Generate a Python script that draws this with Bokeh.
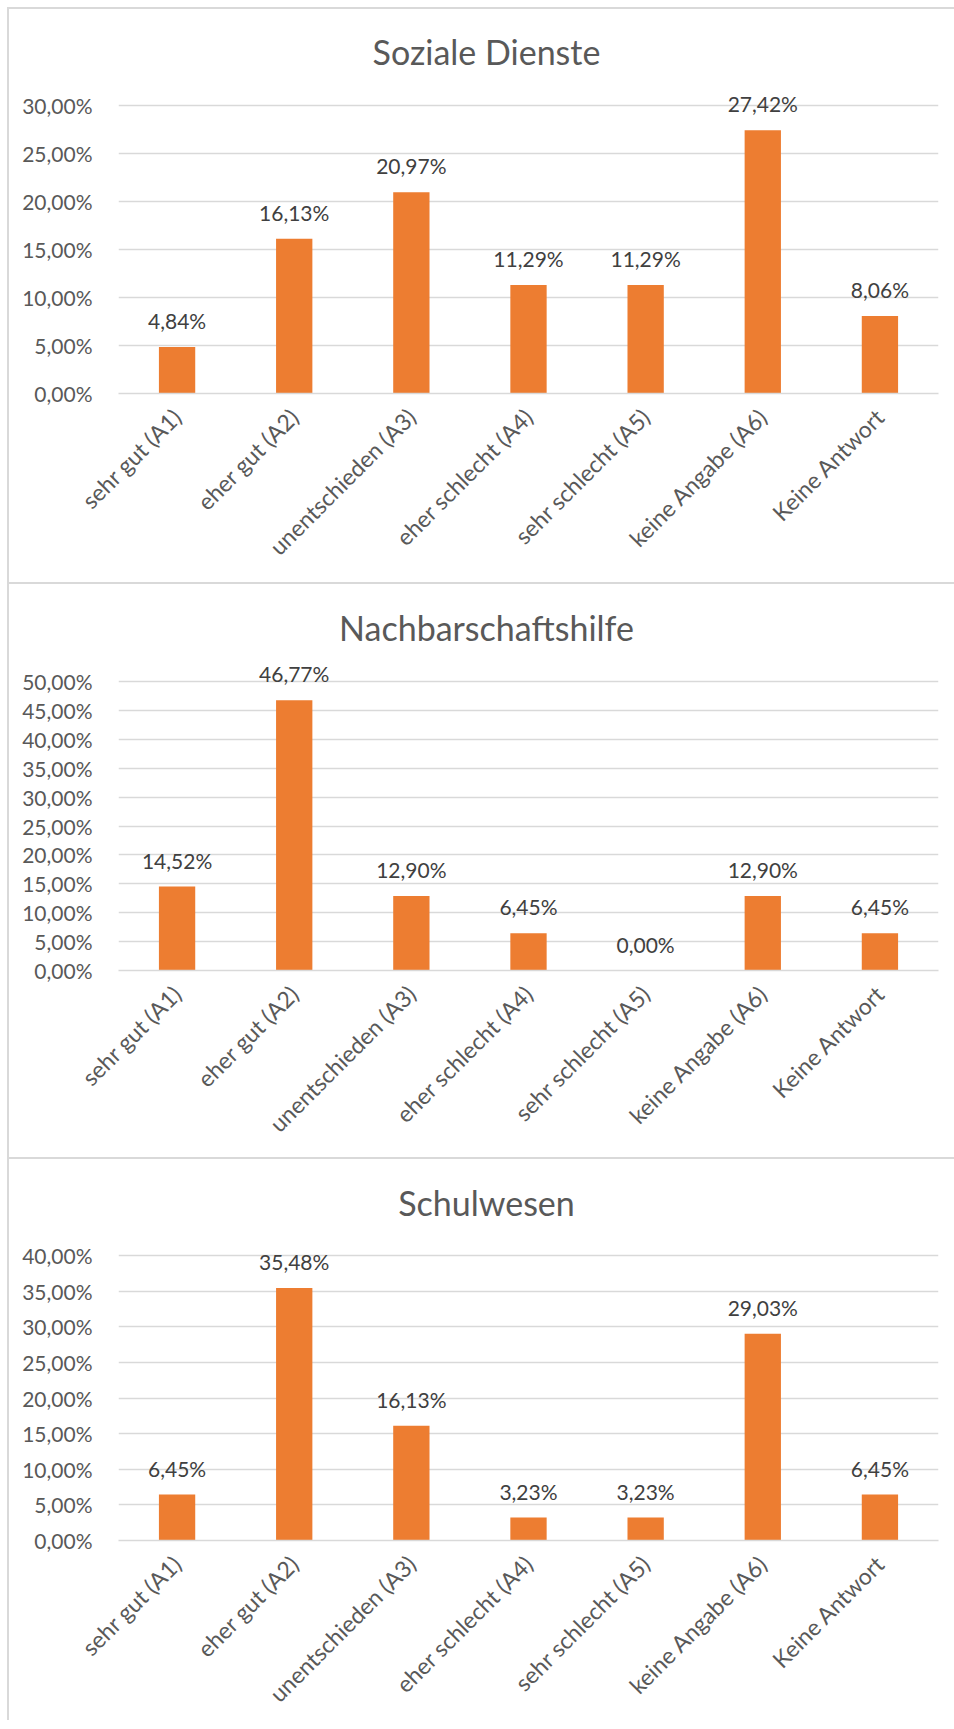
from bokeh.plotting import figure
from bokeh.models import (ColumnDataSource, LabelSet, Label, FactorRange, FixedTicker,
                          CustomJSTickFormatter, Div, Range1d)
from bokeh.layouts import column, row
from bokeh.core.properties import value
from bokeh.embed import file_html
from bokeh.resources import INLINE
import math

categories = ["sehr gut (A1)", "eher gut (A2)", "unentschieden (A3)", "eher schlecht (A4)",
              "sehr schlecht (A5)", "keine Angabe (A6)", "Keine Antwort"]

titles = ["Soziale Dienste", "Nachbarschaftshilfe", "Schulwesen"]

soziale_dienste = [4.84, 16.13, 20.97, 11.29, 11.29, 27.42, 8.06]
nachbarschaftshilfe = [14.52, 46.77, 12.90, 6.45, 0.00, 12.90, 6.45]
schulwesen = [6.45, 35.48, 16.13, 3.23, 3.23, 29.03, 6.45]

y_max = [30, 50, 40]
y_step = 5

BAR = "#ED7D31"
GRID = "#D9D9D9"
AXIS_TXT = "#595959"
LABEL_TXT = "#404040"
FONT = "Lato"

# (figure height, space above top gridline, height of gridline area)
geom = [(573, 96, 288), (573, 97, 289), (561, 98, 290)]
FIG_W = 945
LEFT = 109
RIGHT = 16
TITLE_GAP = 54  # px between title anchor and top gridline


def make_panel(title, vals, ymax, g):
    h, top, fh = g
    bottom = h - top - fh
    src = ColumnDataSource(dict(
        cat=categories,
        val=vals,
        lab=[f"{v:.2f}".replace(".", ",") + "%" for v in vals],
    ))
    # frame reaches the top of the figure so labels/title are not clipped;
    # gridlines/ticks stop at ymax via the fixed ticker
    per_px = ymax / fh
    y_end = (top + fh) * per_px
    p = figure(x_range=FactorRange(*categories, range_padding=0),
               y_range=Range1d(0, y_end),
               width=FIG_W, height=h, title=None,
               output_backend="svg", toolbar_location=None,
               min_border_left=LEFT, min_border_right=RIGHT,
               min_border_top=0, min_border_bottom=bottom,
               margin=(0, 0, 0, 0))
    p.outline_line_color = None
    p.background_fill_color = "white"
    p.border_fill_color = "white"

    p.vbar(x="cat", top="val", width=0.31, source=src, fill_color=BAR, line_color=None)

    # y axis
    p.yaxis.ticker = FixedTicker(ticks=list(range(0, ymax + 1, y_step)))
    p.yaxis.formatter = CustomJSTickFormatter(
        code="return tick.toFixed(2).replace('.', ',') + '%';")
    p.yaxis.axis_line_color = None
    p.yaxis.major_tick_line_color = None
    p.yaxis.minor_tick_line_color = None
    p.yaxis.major_label_standoff = 20
    p.yaxis.major_label_text_font = FONT
    p.yaxis.major_label_text_font_size = "21px"
    p.yaxis.major_label_text_color = AXIS_TXT

    # x axis
    p.xaxis.axis_line_color = GRID
    p.xaxis.axis_line_width = 1.5
    p.xaxis.major_tick_line_color = None
    p.xaxis.minor_tick_line_color = None
    p.xaxis.major_label_orientation = math.pi / 4
    p.xaxis.major_label_standoff = 13
    p.xaxis.major_label_text_font = FONT
    p.xaxis.major_label_text_font_size = "23px"
    p.xaxis.major_label_text_color = AXIS_TXT

    p.xgrid.grid_line_color = None
    p.ygrid.grid_line_color = GRID
    p.ygrid.grid_line_width = 1.5

    labels = LabelSet(x="cat", y="val", text="lab", source=src,
                      y_offset=18, text_align="center", text_baseline="alphabetic",
                      text_font=value(FONT), text_font_size="21px", text_color=LABEL_TXT)
    p.add_layout(labels)

    t = Label(x=368, y=ymax + TITLE_GAP * per_px, x_units="screen", y_units="data",
              text=title, text_align="center", text_baseline="alphabetic",
              text_font=FONT, text_font_size="34px", text_color=AXIS_TXT)
    p.add_layout(t)
    return p


series = [soziale_dienste, nachbarschaftshilfe, schulwesen]
figs = [make_panel(t, v, m, g) for t, v, m, g in zip(titles, series, y_max, geom)]


def hline():
    return Div(width=FIG_W, height=2, margin=(0, 0, 0, 0),
               styles={"background-color": GRID})


col = column(hline(), figs[0], hline(), figs[1], hline(), figs[2],
             spacing=0, margin=(0, 0, 0, 0))
total_h = 2 + geom[0][0] + 2 + geom[1][0] + 2 + geom[2][0]
vline = Div(width=2, height=total_h, margin=(0, 0, 0, 0),
            styles={"background-color": GRID})
layout = row(vline, col, spacing=0, margin=(7, 0, 0, 7))

open("out.html", "w").write(file_html(layout, INLINE))
